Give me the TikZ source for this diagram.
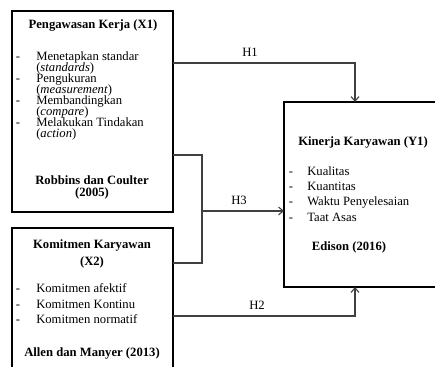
\documentclass[tikz,border=0pt]{standalone}
\usepackage{fontspec}
\setmainfont{Liberation Serif}
\usetikzlibrary{arrows.meta}
\begin{document}
\begin{tikzpicture}[x=0.75pt,y=-0.75pt,
 box/.style={draw=black, line width=1.6pt, inner sep=0pt, outer sep=0pt},
 txt/.style={inner sep=0pt, font=\fontsize{9.5}{9}\selectfont, text height=1.5ex, text depth=.25ex},
 hd/.style={txt, font=\fontsize{9.5}{9}\selectfont\bfseries},
 item/.style={txt, anchor=west},
 conn/.style={draw=black!75, line width=0.8pt},
 tip/.style={-{Straight Barb[length=3.5pt,width=6pt]}}
]
\useasboundingbox (0,0) rectangle (435,367);
\clip (0,0) rectangle (435,367);

% boxes
\node[box, minimum width=120.75pt, minimum height=150.75pt] (x1) at (92.5,111.5) {};
\node[box, minimum width=120.75pt, minimum height=121.5pt] (x2) at (92.5,309) {};
\node[box, minimum width=132pt, minimum height=138.75pt] (y1) at (372,194.5) {};

% X1 text
\node[hd] (x1t) at (93,25) {Pengawasan Kerja (X1)};
\node[txt] (x1d1) at (18,57) {-};
\node[item] (x1a) at (36,57) {Menetapkan standar};
\node[item] (x1b) at (36,68) {(\textit{standards})};
\node[txt] (x1d2) at (18,79) {-};
\node[item] (x1c) at (36,79) {Pengukuran};
\node[item] (x1e) at (36,90) {(\textit{measurement})};
\node[txt] (x1d3) at (18,101) {-};
\node[item] (x1f) at (36,101) {Membandingkan};
\node[item] (x1g) at (36,112) {(\textit{compare})};
\node[txt] (x1d4) at (18,123) {-};
\node[item] (x1h) at (36,123) {Melakukan Tindakan};
\node[item] (x1i) at (36,134) {(\textit{action})};
\node[hd] (x1s1) at (92,181) {Robbins dan Coulter};
\node[hd] (x1s2) at (92,193) {(2005)};

% X2 text
\node[hd] (x2t1) at (92,245) {Komitmen Karyawan};
\node[hd] (x2t2) at (92,262) {(X2)};
\node[txt] (x2d1) at (18,289) {-};
\node[item] (x2a) at (36,289) {Komitmen afektif};
\node[txt] (x2d2) at (18,305) {-};
\node[item] (x2b) at (36,305) {Komitmen Kontinu};
\node[txt] (x2d3) at (18,320) {-};
\node[item] (x2c) at (36,320) {Komitmen normatif};
\node[hd] (x2s) at (92,353) {Allen dan Manyer (2013)};

% Y1 text
\node[hd] (y1t) at (363,142) {Kinerja Karyawan (Y1)};
\node[txt] (y1d1) at (291,172) {-};
\node[item] (y1a) at (307,172) {Kualitas};
\node[txt] (y1d2) at (291,187) {-};
\node[item] (y1b) at (307,187) {Kuantitas};
\node[txt] (y1d3) at (291,202) {-};
\node[item] (y1c) at (307,202) {Waktu Penyelesaian};
\node[txt] (y1d4) at (291,218) {-};
\node[item] (y1e) at (307,218) {Taat Asas};
\node[hd] (y1s) at (349,247) {Edison (2016)};

% connectors
\coordinate (h1b) at (355,63);
\coordinate (j3a) at (202,155);
\coordinate (j3b) at (202,263);
\coordinate (j3) at (202,211);
\coordinate (h2b) at (355,316);

\draw[conn,tip] (h1b -| x1.east) -- (h1b) -- (h1b |- y1.north);
\draw[conn] (j3a -| x1.east) -- (j3a) -- (j3b) -- (j3b -| x2.east);
\draw[conn,tip] (j3) -- (j3 -| y1.west);
\draw[conn,tip] (h2b -| x2.east) -- (h2b) -- (h2b |- y1.south);

% labels
\node[txt] (lh1) at (250,53) {H1};
\node[txt] (lh3) at (239,201) {H3};
\node[txt] (lh2) at (257,306) {H2};
\end{tikzpicture}
\end{document}
